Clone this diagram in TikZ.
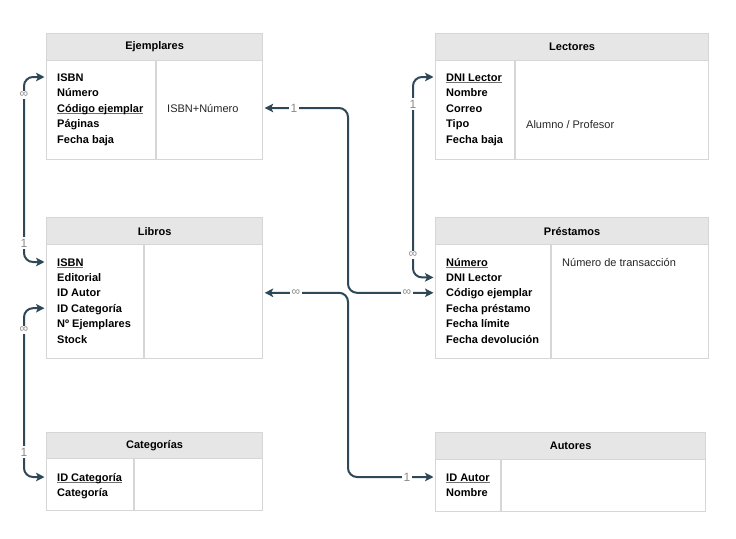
\documentclass[tikz,border=0pt]{standalone}
\usepackage{fontspec}
\setmainfont{Liberation Sans}
\usetikzlibrary{arrows.meta}
\definecolor{hdr}{HTML}{E6E6E6}
\definecolor{bord}{HTML}{D6D6D6}
\definecolor{conn}{HTML}{2F4858}
\definecolor{lblc}{HTML}{8A8A8A}
\definecolor{ulc}{HTML}{707070}
\newcommand\pkey[1]{\setbox0\hbox{#1}\leavevmode\rlap{\textcolor{ulc}{\rule[-2.4pt]{\wd0}{1.4pt}}}\box0}
\tikzset{
 hdrbox/.style={draw=bord, fill=hdr, line width=1.2pt, inner sep=0pt, anchor=north west, font=\bfseries\fontsize{11}{13}\selectfont},
 bodybox/.style={draw=bord, line width=1.2pt, inner sep=0pt, anchor=north west},
 divline/.style={draw=bord, line width=1.2pt},
 field/.style={anchor=west, inner sep=0pt, text height=8pt, text depth=0pt, font=\bfseries\fontsize{11}{13}\selectfont},
 note/.style={anchor=west, inner sep=0pt, text height=8pt, text depth=0pt, text=black!85, font=\fontsize{11}{13}\selectfont},
 link/.style={draw=conn, line width=2pt, rounded corners=9pt,
   {Stealth[length=8.5pt,width=8.5pt,inset=2pt]}-{Stealth[length=8.5pt,width=8.5pt,inset=2pt]},
   shorten <=1.5pt, shorten >=1.5pt},
 card/.style={fill=white, inner sep=1.5pt, text=lblc, font=\fontsize{12}{14}\selectfont}
}
\begin{document}
\begin{tikzpicture}[x=1pt,y=-1pt]
\useasboundingbox[fill=white] (0,0) rectangle (736,538);

% Ejemplares
\node[hdrbox, minimum width=216pt, minimum height=27pt] (ejh) at (46,33) {Ejemplares};
\node[bodybox, minimum width=216pt, minimum height=99pt] (ejb) at (46,60) {};
\coordinate (ejd) at (156,60);
\draw[divline] (ejd) -- (ejd |- ejb.south);
\foreach \t [count=\i] in {ISBN, Número, {\pkey{Código ejemplar}}, Páginas, Fecha baja}
  \node[field] (ej\i) at (57,{77+15.5*(\i-1)}) {\t};
\node[note] (ejn) at (167,108) {ISBN+Número};

% Libros
\node[hdrbox, minimum width=216pt, minimum height=27pt] (lih) at (46,217) {Libros};
\node[bodybox, minimum width=216pt, minimum height=114pt] (lib) at (46,244) {};
\coordinate (lid) at (144,244);
\draw[divline] (lid) -- (lid |- lib.south);
\foreach \t [count=\i] in {{\pkey{ISBN}}, Editorial, ID Autor, ID Categoría, Nº Ejemplares, Stock}
  \node[field] (li\i) at (57,{262+15.4*(\i-1)}) {\t};

% Categorias
\node[hdrbox, minimum width=216pt, minimum height=26pt] (cah) at (46,432) {Categorías};
\node[bodybox, minimum width=216pt, minimum height=52pt] (cab) at (46,458) {};
\coordinate (cad) at (134,458);
\draw[divline] (cad) -- (cad |- cab.south);
\foreach \t [count=\i] in {{\pkey{ID Categoría}}, Categoría}
  \node[field] (ca\i) at (57,{477+15.5*(\i-1)}) {\t};

% Lectores
\node[hdrbox, minimum width=273pt, minimum height=27pt] (lch) at (435,33) {Lectores};
\node[bodybox, minimum width=273pt, minimum height=99pt] (lcb) at (435,60) {};
\coordinate (lcd) at (515,60);
\draw[divline] (lcd) -- (lcd |- lcb.south);
\foreach \t [count=\i] in {{\pkey{DNI Lector}}, Nombre, Correo, Tipo, Fecha baja}
  \node[field] (lc\i) at (446,{77+15.5*(\i-1)}) {\t};
\node[note] (lcn) at (526,124) {Alumno / Profesor};

% Prestamos
\node[hdrbox, minimum width=273pt, minimum height=27pt] (prh) at (435,217) {Préstamos};
\node[bodybox, minimum width=273pt, minimum height=114pt] (prb) at (435,244) {};
\coordinate (prd) at (551,244);
\draw[divline] (prd) -- (prd |- prb.south);
\foreach \t [count=\i] in {{\pkey{Número}}, DNI Lector, Código ejemplar, Fecha préstamo, Fecha límite, Fecha devolución}
  \node[field] (pr\i) at (446,{262+15.4*(\i-1)}) {\t};
\node[note] (prn) at (562,262) {Número de transacción};

% Autores
\node[hdrbox, minimum width=270pt, minimum height=27pt] (auh) at (435,432) {Autores};
\node[bodybox, minimum width=270pt, minimum height=52pt] (aub) at (435,459) {};
\coordinate (aud) at (501,459);
\draw[divline] (aud) -- (aud |- aub.south);
\foreach \t [count=\i] in {{\pkey{ID Autor}}, Nombre}
  \node[field] (au\i) at (446,{477+15.5*(\i-1)}) {\t};

% Connectors
\coordinate (v2) at (348,200);
\coordinate (v4) at (348,400);
\draw[link] (ejb.west |- ej1) -- ++(-22,0) |- (lib.west |- li1);
\draw[link] (ejb.east |- ej3) -| (v2) |- (prb.west |- pr3);
\draw[link] (lcb.west |- lc1) -- ++(-22,0) |- (prb.west |- pr2);
\draw[link] (lib.east |- li3) -| (v4) |- (aub.west |- au1);
\draw[link] (lib.west |- li4) -- ++(-22,0) |- (cab.west |- ca1);

% Cardinalities
\node[card] (k1a) at (24,95) {∞};
\node[card] (k1b) at (24,243) {1};
\node[card] (k2a) at (294,108) {1};
\node[card] (k2b) at (407,293) {∞};
\node[card] (k3a) at (413,104) {1};
\node[card] (k3b) at (413,255) {∞};
\node[card] (k4a) at (296,293) {∞};
\node[card] (k4b) at (407,477) {1};
\node[card] (k5a) at (24,330) {∞};
\node[card] (k5b) at (24,452) {1};
\end{tikzpicture}
\end{document}
